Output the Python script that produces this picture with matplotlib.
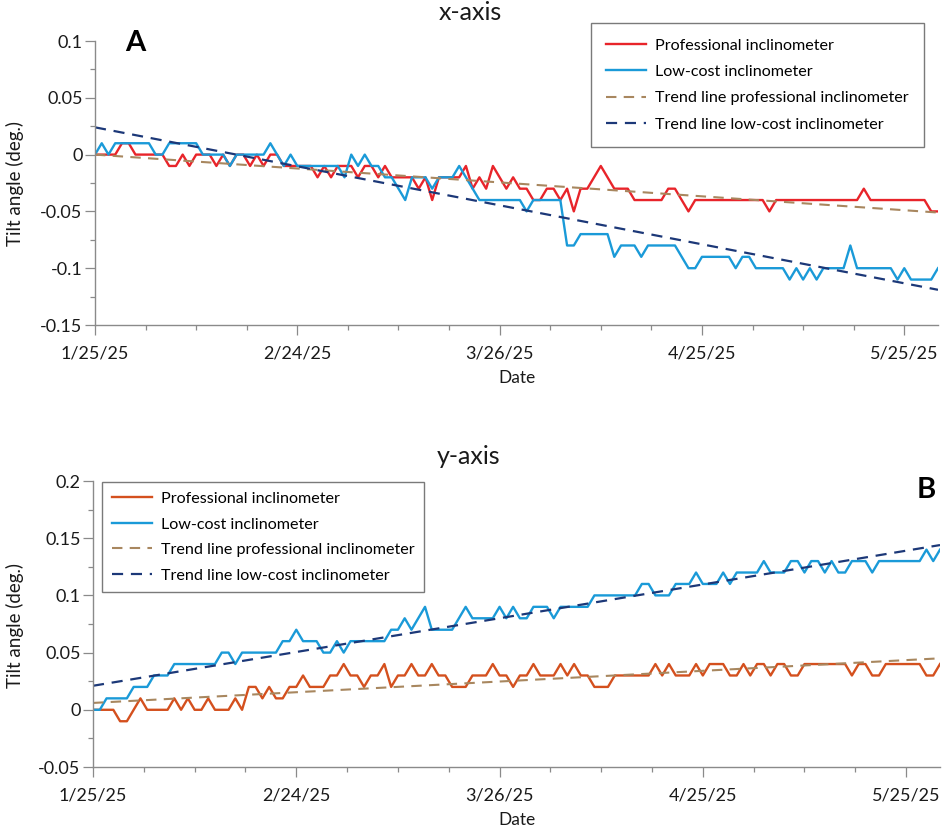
import numpy as np
import pandas as pd
import matplotlib
matplotlib.use('Agg')
import matplotlib.pyplot as plt
import matplotlib.dates as mdates

plt.rcParams['font.family'] = ['Lato', 'DejaVu Sans']
plt.rcParams['axes.unicode_minus'] = False

start_date = '2025-01-25'

# daily readings, in hundredths of a degree
x_professional = [0, 0, 0, 0, 1, 1, 0, 0, 0, 0,
                  0, -1, -1, 0, -1, 0, 0, 0, -1, 0,
                  -1, 0, 0, -1, 0, -1, 0, 0, -1, -1,
                  -1, -1, -1, -2, -1, -2, -1, -1, -1, -2,
                  -1, -1, -2, -1, -2, -2, -2, -2, -3, -2,
                  -4, -2, -2, -2, -2, -1, -3, -2, -3, -1,
                  -2, -3, -2, -3, -3, -4, -4, -3, -3, -4,
                  -3, -5, -3, -3, -2, -1, -2, -3, -3, -3,
                  -4, -4, -4, -4, -4, -3, -3, -4, -5, -4,
                  -4, -4, -4, -4, -4, -4, -4, -4, -4, -4,
                  -5, -4, -4, -4, -4, -4, -4, -4, -4, -4,
                  -4, -4, -4, -4, -3, -4, -4, -4, -4, -4,
                  -4, -4, -4, -4, -5, -5]
x_lowcost = [0, 1, 0, 1, 1, 1, 1, 1, 1, 0,
             0, 1, 1, 1, 1, 1, 0, 0, 0, 0,
             -1, 0, 0, 0, 0, 0, 1, 0, -1, 0,
             -1, -1, -1, -1, -1, -1, -1, -2, 0, -1,
             0, -1, -1, -2, -2, -3, -4, -2, -2, -2,
             -3, -2, -2, -2, -1, -2, -3, -4, -4, -4,
             -4, -4, -4, -4, -5, -4, -4, -4, -4, -4,
             -8, -8, -7, -7, -7, -7, -7, -9, -8, -8,
             -8, -9, -8, -8, -8, -8, -8, -9, -10, -10,
             -9, -9, -9, -9, -9, -10, -9, -9, -10, -10,
             -10, -10, -10, -11, -10, -11, -10, -11, -10, -10,
             -10, -10, -8, -10, -10, -10, -10, -10, -10, -11,
             -10, -11, -11, -11, -11, -10]
y_professional = [0, 0, 0, 0, -1, -1, 0, 1, 0, 0,
                  0, 0, 1, 0, 1, 0, 0, 1, 0, 0,
                  0, 1, 0, 2, 2, 1, 2, 1, 1, 2,
                  2, 3, 2, 2, 2, 3, 3, 4, 3, 3,
                  2, 3, 3, 4, 2, 3, 3, 4, 3, 3,
                  4, 3, 3, 2, 2, 2, 3, 3, 3, 4,
                  3, 3, 2, 3, 3, 4, 3, 3, 3, 4,
                  3, 4, 3, 3, 2, 2, 2, 3, 3, 3,
                  3, 3, 3, 4, 3, 4, 3, 3, 3, 4,
                  3, 4, 4, 4, 3, 3, 4, 3, 4, 4,
                  3, 4, 4, 3, 3, 4, 4, 4, 4, 4,
                  4, 4, 3, 4, 4, 3, 3, 4, 4, 4,
                  4, 4, 4, 3, 3, 4]
y_lowcost = [0, 0, 1, 1, 1, 1, 2, 2, 2, 3,
             3, 3, 4, 4, 4, 4, 4, 4, 4, 5,
             5, 4, 5, 5, 5, 5, 5, 5, 6, 6,
             7, 6, 6, 6, 5, 5, 6, 5, 6, 6,
             6, 6, 6, 6, 7, 7, 8, 7, 8, 9,
             7, 7, 7, 7, 8, 9, 8, 8, 8, 8,
             9, 8, 9, 8, 8, 9, 9, 9, 8, 9,
             9, 9, 9, 9, 10, 10, 10, 10, 10, 10,
             10, 11, 11, 10, 10, 10, 11, 11, 11, 12,
             11, 11, 11, 12, 11, 12, 12, 12, 12, 13,
             12, 12, 12, 13, 13, 12, 13, 13, 12, 13,
             12, 12, 13, 13, 13, 12, 13, 13, 13, 13,
             13, 13, 13, 14, 13, 14]

# trend lines: value on first and last day
x_trend_professional = [0.0, -0.051]
x_trend_lowcost = [0.024, -0.119]
y_trend_professional = [0.006, 0.045]
y_trend_lowcost = [0.021, 0.144]

tick_dates = ['2025-01-25', '2025-02-24', '2025-03-26', '2025-04-25', '2025-05-25']
x_yticks = [-0.15, -0.1, -0.05, 0, 0.05, 0.1]
x_yticklabels = ['-0.15', '-0.1', '-0.05', '0', '0.05', '0.1']
y_yticks = [-0.05, 0, 0.05, 0.1, 0.15, 0.2]
y_yticklabels = ['-0.05', '0', '0.05', '0.1', '0.15', '0.2']

labels = ['Professional inclinometer', 'Low-cost inclinometer',
          'Trend line professional inclinometer', 'Trend line low-cost inclinometer']

W, H = 948, 830
axis_grey = '#8a8a8a'
text_col = '#1a1a1a'
legend_fs = 11.6


def draw_panel(ax, prof, low, trend_prof, trend_low, prof_color, yticks, yticklabels):
    dates = pd.date_range(start_date, periods=len(prof), freq='D')
    ax.plot(dates, np.array(prof) / 100, color=prof_color, lw=1.7, label=labels[0])
    ax.plot(dates, np.array(low) / 100, color='#1a9ad8', lw=1.7, label=labels[1])
    ends = [dates[0], dates[-1]]
    ax.plot(ends, trend_prof, color='#a8875f', lw=1.5, dashes=(5, 3.5), label=labels[2])
    ax.plot(ends, trend_low, color='#1c3878', lw=1.6, dashes=(5, 3.5), label=labels[3])

    ax.set_xlim(dates[0], dates[-1])
    ax.set_ylim(yticks[0], yticks[-1])
    ax.set_yticks(yticks)
    ax.set_yticklabels(yticklabels)
    ax.set_yticks(np.array(yticks[:-1]) + 0.025, minor=True)

    tds = pd.to_datetime(tick_dates)
    ax.set_xticks(tds)
    ax.set_xticklabels([f'{d.month}/{d.day}/{d.year % 100}' for d in tds])
    lo, hi = mdates.date2num(dates[0]), mdates.date2num(dates[-1])
    ax.set_xticks(np.arange(lo, hi + 0.1, 7.5), minor=True)

    for s in ['top', 'right']:
        ax.spines[s].set_visible(False)
    for s in ['left', 'bottom']:
        ax.spines[s].set_color(axis_grey)
        ax.spines[s].set_linewidth(1.0)
    ax.tick_params(which='major', length=7, width=0.9, color=axis_grey,
                   labelsize=13, labelcolor=text_col)
    ax.tick_params(which='minor', length=3.5, width=0.9, color=axis_grey)
    ax.tick_params(axis='x', pad=8)
    ax.tick_params(axis='y', pad=2)
    ax.set_xlabel('Date', fontsize=12.5, labelpad=6, color=text_col)


def add_legend(ax, loc, anchor, pad, spacing):
    leg = ax.legend(loc=loc, bbox_to_anchor=anchor, bbox_transform=fig.transFigure,
                    fontsize=legend_fs, frameon=True, fancybox=False, framealpha=1,
                    handlelength=2.5, handletextpad=0.55, labelspacing=spacing,
                    borderpad=pad, borderaxespad=0)
    fr = leg.get_frame()
    fr.set_edgecolor('#7a7a7a')
    fr.set_linewidth(1.0)
    fr.set_boxstyle('square', pad=0)
    return leg


fig = plt.figure(figsize=(W / 100, H / 100), dpi=100)

ax1 = fig.add_axes([95 / W, 1 - 325 / H, (938 - 95) / W, (325 - 41) / H])
draw_panel(ax1, x_professional, x_lowcost, x_trend_professional, x_trend_lowcost,
           '#e8242a', x_yticks, x_yticklabels)
add_legend(ax1, 'upper right', (924 / W, 1 - 23 / H), 0.95, 0.75)

ax2 = fig.add_axes([93 / W, 1 - 767 / H, (940 - 93) / W, (767 - 481) / H])
draw_panel(ax2, y_professional, y_lowcost, y_trend_professional, y_trend_lowcost,
           '#d4501e', y_yticks, y_yticklabels)
add_legend(ax2, 'upper left', (102 / W, 1 - 482 / H), 0.6, 0.7)

fig.text(470 / W, 1 - 13 / H, 'x-axis', fontsize=18, ha='center', va='center', color=text_col)
fig.text(469 / W, 1 - 456 / H, 'y-axis', fontsize=18, ha='center', va='center', color=text_col)
fig.text(15 / W, 1 - 184 / H, 'Tilt angle (deg.)', fontsize=13.5, rotation=90,
         ha='center', va='center', color=text_col)
fig.text(15 / W, 1 - 625 / H, 'Tilt angle (deg.)', fontsize=13.5, rotation=90,
         ha='center', va='center', color=text_col)
fig.text(135 / W, 1 - 43 / H, 'A', fontsize=21, fontweight='bold', ha='center', va='center')
fig.text(926 / W, 1 - 490 / H, 'B', fontsize=21, fontweight='bold', ha='center', va='center')

fig.savefig('out.png', dpi=100)
